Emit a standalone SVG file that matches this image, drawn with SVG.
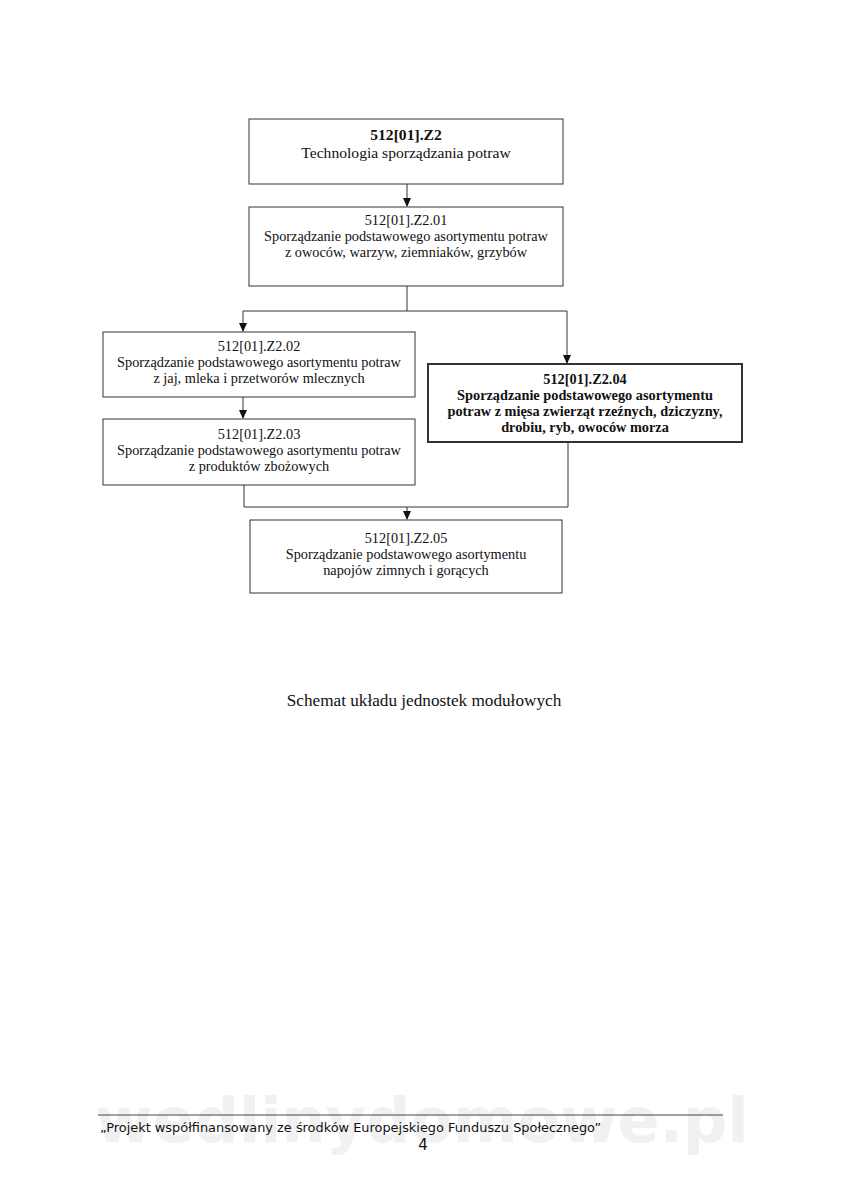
<svg xmlns="http://www.w3.org/2000/svg" width="848" height="1200" viewBox="0 0 848 1200">
<style>
.box{fill:#fff;stroke:#333;stroke-width:1}
.bold{stroke-width:2}
.t{font-family:"Liberation Serif","Times New Roman",serif;font-size:14.3px;fill:#111;text-anchor:middle}
.big{font-size:15.6px}
.b{font-weight:bold}
.c{fill:none;stroke:#333;stroke-width:1}
</style>
<defs>
<marker id="ar" markerWidth="10" markerHeight="10" refX="8" refY="5" orient="auto" markerUnits="userSpaceOnUse">
<path d="M0,1 L9,5 L0,9 Z" fill="#111"/>
</marker>
</defs>
<rect width="848" height="1200" fill="#fff"/>
<text x="422" y="1142" font-family="'DejaVu Sans',Verdana,sans-serif" font-size="62" font-weight="bold" fill="#f1f1f1" text-anchor="middle">wedlinydomowe.pl</text>
<g id="connectors">
<line class="c" x1="407" y1="184" x2="407" y2="206" marker-end="url(#ar)"/>
<polyline class="c" points="407,286 407,311 243,311 243,331" marker-end="url(#ar)"/>
<polyline class="c" points="407,311 567,311 567,363" marker-end="url(#ar)"/>
<line class="c" x1="243" y1="397" x2="243" y2="418" marker-end="url(#ar)"/>
<polyline class="c" points="244,485 244,507 568,507 568,442"/>
<line class="c" x1="407" y1="507" x2="407" y2="519" marker-end="url(#ar)"/>
</g>
<g id="n1">
<rect class="box" x="249" y="119" width="314" height="65"/>
<text class="t b big" x="406" y="140">512[01].Z2</text>
<text class="t big" x="406" y="158">Technologia sporządzania potraw</text>
</g>
<g id="n2">
<rect class="box" x="249" y="207" width="314" height="79"/>
<text class="t" x="406" y="225">512[01].Z2.01</text>
<text class="t" x="406" y="241">Sporządzanie podstawowego asortymentu potraw</text>
<text class="t" x="406" y="257">z owoców, warzyw, ziemniaków, grzybów</text>
</g>
<g id="n3">
<rect class="box" x="103" y="332" width="312" height="65"/>
<text class="t" x="259" y="351">512[01].Z2.02</text>
<text class="t" x="259" y="367">Sporządzanie podstawowego asortymentu potraw</text>
<text class="t" x="259" y="383">z jaj, mleka i przetworów mlecznych</text>
</g>
<g id="n4">
<rect class="box" x="103" y="419" width="312" height="66"/>
<text class="t" x="259" y="439">512[01].Z2.03</text>
<text class="t" x="259" y="455">Sporządzanie podstawowego asortymentu potraw</text>
<text class="t" x="259" y="471">z produktów zbożowych</text>
</g>
<g id="n5">
<rect class="box bold" x="428" y="364" width="314" height="78"/>
<text class="t b" x="585" y="384">512[01].Z2.04</text>
<text class="t b" x="585" y="400">Sporządzanie podstawowego asortymentu</text>
<text class="t b" x="585" y="416">potraw z mięsa zwierząt rzeźnych, dziczyzny,</text>
<text class="t b" x="585" y="432">drobiu, ryb, owoców morza</text>
</g>
<g id="n6">
<rect class="box" x="250" y="520" width="312" height="73"/>
<text class="t" x="406" y="543">512[01].Z2.05</text>
<text class="t" x="406" y="559">Sporządzanie podstawowego asortymentu</text>
<text class="t" x="406" y="575">napojów zimnych i gorących</text>
</g>
<text x="424" y="706" font-family="'Liberation Serif','Times New Roman',serif" font-size="17.2" fill="#111" text-anchor="middle">Schemat układu jednostek modułowych</text>
<line x1="98" y1="1115" x2="723" y2="1115" stroke="#444" stroke-width="1"/>
<text x="100" y="1132" font-family="'DejaVu Sans',Verdana,sans-serif" font-size="12.9" fill="#111">„Projekt współfinansowany ze środków Europejskiego Funduszu Społecznego”</text>
<text x="423" y="1150" font-family="'DejaVu Sans',Verdana,sans-serif" font-size="15" fill="#111" text-anchor="middle">4</text>
</svg>
